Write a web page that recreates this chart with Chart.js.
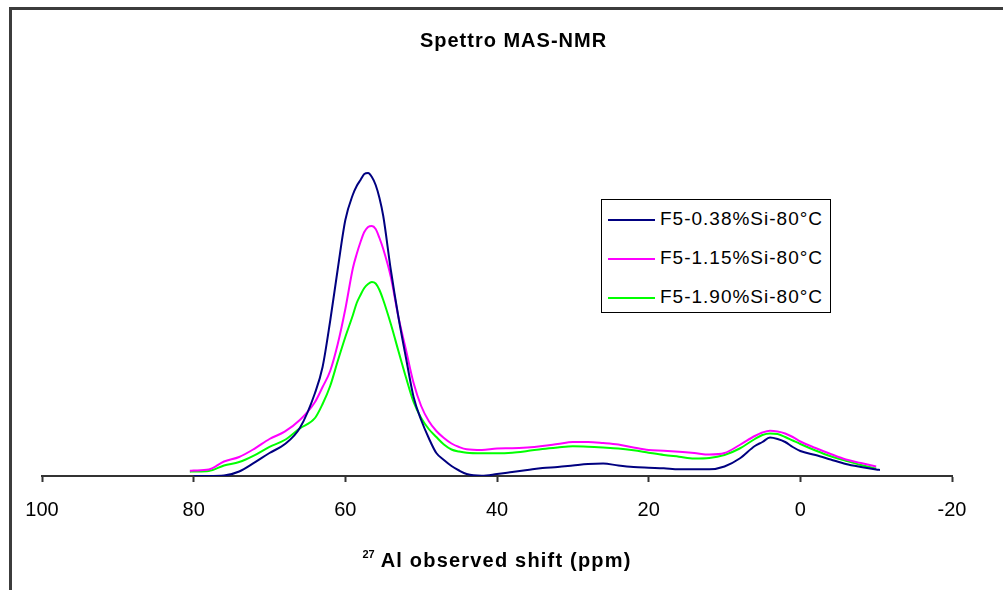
<!DOCTYPE html>
<html>
<head>
<meta charset="utf-8">
<title>Spettro MAS-NMR</title>
<script src="https://cdn.jsdelivr.net/npm/chart.js"></script>
<style>
    html, body {
        margin: 0;
        padding: 0;
        background: #ffffff;
        overflow: hidden;
    }

    #wrap {
        position: relative;
        width: 1003px;
        height: 590px;
        overflow: hidden;
        font-family: Arial, "Liberation Sans", sans-serif;
    }

    #frame {
        position: absolute;
        left: 9px;
        top: 7px;
        width: 2000px;
        height: 2000px;
        border: 3px solid #3c3c3c;
    }

    #main {
        position: absolute;
        left: 0;
        top: 0;
        width: 1003px;
        height: 590px;
    }

    #title {
        position: absolute;
        left: 0;
        width: 1003px;
        top: 29px;
        text-align: center;
        font-weight: bold;
        font-size: 20px;
        letter-spacing: 1px;
        padding-left: 24px;
        box-sizing: border-box;
    }

    #xtitle {
        position: absolute;
        left: 42px;
        width: 910px;
        top: 548px;
        text-align: center;
        font-weight: bold;
        font-size: 20px;
        letter-spacing: 1.2px;
    }

    #xtitle sup {
        font-size: 11px;
        vertical-align: 9px;
        letter-spacing: 0;
    }

    #legend {
        position: absolute;
        left: 601px;
        top: 199px;
        width: 228px;
        height: 112px;
        border: 1px solid #000;
        background: #fff;
    }

    .item {
        position: absolute;
        left: 6px;
        height: 24px;
        font-size: 19px;
        letter-spacing: 1px;
        line-height: 24px;
        white-space: nowrap;
    }

    .item span {
        display: inline-block;
        width: 47px;
        height: 2px;
        margin-right: 5px;
        vertical-align: middle;
    }
</style>
</head>
<body>
<div id="wrap">
    <div id="frame"></div>
    <div id="main"><canvas id="myChart"></canvas></div>
    <div id="title">Spettro MAS-NMR</div>
    <div id="legend"></div>
    <div id="xtitle"><sup>27</sup> Al observed shift (ppm)</div>
</div>

<script>
    // chemical shift (ppm), shared by the three spectra
    var shift = [80.5, 80, 78, 76, 74, 72, 70, 68, 66, 64, 63, 62, 61, 60, 59, 58.5, 58, 57.5, 57, 56.5,
        56, 55.5, 55, 54, 53, 52, 51, 50, 49, 48, 47, 46, 45, 44, 42, 40, 38, 36, 34, 32,
        30, 28, 26, 24, 22, 20, 18, 16, 14, 12, 10, 8, 6, 5, 4, 3, 2, 1, 0, -2,
        -4, -6, -8, -10, -10.5];

    // intensity (arbitrary units)
    var f5_038 = [null, 0, 0, 0.5, 4.5, 13.3, 23, 31.7, 48, 83, 109, 155, 207, 256, 281.5, 290, 296, 302, 303, 299,
        291, 278, 260, 206, 159, 118, 79, 56, 38, 23, 16, 10, 5.5, 2, 0.3, 2, 4, 6, 8, 9,
        10.5, 12, 12.5, 10.5, 9, 8.3, 7.7, 6.7, 6.7, 6.7, 9.5, 17.5, 30, 34, 38.5, 37, 34, 29, 25, 21,
        16.5, 12, 9, 6.5, 6];
    var f5_115 = [5.3, 5.5, 6.5, 14.5, 19, 27.2, 37, 44.4, 56, 74, 89, 105, 132, 167, 208, 222, 234, 244, 249, 250,
        247, 238, 227, 199, 159, 126, 93, 70, 55, 45, 38, 32.5, 29, 26.7, 26, 27.5, 27.7, 28.5, 30, 32,
        34, 34, 33, 31.5, 28.5, 26, 25.3, 24.3, 23, 21.5, 23, 31, 40, 43.5, 45.3, 44.5, 42.5, 39, 34.5, 28,
        22, 16.5, 13, 9.5, null];
    var f5_190 = [4.3, 4.5, 5, 10.5, 14, 20.7, 29.2, 36, 47.6, 58, 72, 90, 115, 139, 161, 173, 181, 188, 192, 194,
        192.5, 186, 176, 152, 125, 98.5, 74, 58, 47, 39, 31.5, 26.5, 24.5, 23.2, 22.7, 22.7, 23.3, 25, 27, 28.5,
        29.7, 29.3, 28.5, 27.5, 25.7, 23.3, 21, 19.3, 17.5, 18, 21, 27.5, 37, 41, 42.5, 42, 39, 35.5, 32, 25.5,
        19.7, 15.2, 11, 7.5, null];

    var seriesNames = ['F5-0.38%Si-80°C', 'F5-1.15%Si-80°C', 'F5-1.90%Si-80°C'];
    var seriesColors = ['#000080', '#ff00ff', '#00ff00'];
    var xTicks = [100, 80, 60, 40, 20, 0, -20];

    function toPoints(values) {
        var pts = [];
        shift.forEach(function (x, i) {
            if (values[i] !== null) {
                pts.push({ x: x, y: values[i] });
            }
        });
        return pts;
    }

    var datasets = [f5_038, f5_115, f5_190].map(function (vals, i) {
        return {
            label: seriesNames[i],
            data: toPoints(vals),
            borderColor: seriesColors[i],
            borderWidth: 2,
            pointRadius: 0,
            fill: false,
            cubicInterpolationMode: 'monotone'
        };
    });

    // legend (drawn as html, inside the plot like the original)
    var legend = document.getElementById('legend');
    seriesNames.forEach(function (name, i) {
        var div = document.createElement('div');
        div.className = 'item';
        div.style.top = (7 + i * 39) + 'px';
        div.innerHTML = '<span style="background:' + seriesColors[i] + '"></span>' + name;
        legend.appendChild(div);
    });

    var ctx = document.getElementById('myChart').getContext('2d');
    var chart = new Chart(ctx, {
        type: 'line',
        data: { datasets: datasets },
        options: {
            responsive: true,
            maintainAspectRatio: false,
            animation: false,
            layout: {
                padding: { left: 42, right: 51, top: 60, bottom: 0 }
            },
            plugins: {
                legend: { display: false },
                title: { display: false },
                tooltip: { enabled: false }
            },
            scales: {
                x: {
                    type: 'linear',
                    reverse: true,
                    min: -20,
                    max: 100,
                    afterBuildTicks: function (scale) {
                        scale.ticks = xTicks.map(function (v) { return { value: v }; });
                    },
                    afterFit: function (scale) {
                        scale.height = 114;
                    },
                    grid: {
                        drawOnChartArea: false,
                        drawTicks: true,
                        tickLength: 6,
                        tickWidth: 2,
                        color: '#333333'
                    },
                    border: {
                        display: true,
                        color: '#333333',
                        width: 2
                    },
                    ticks: {
                        padding: 16,
                        color: '#000000',
                        maxRotation: 0,
                        font: { family: 'Arial, "Liberation Sans", sans-serif', size: 20 }
                    }
                },
                y: {
                    display: false,
                    min: 0,
                    max: 416
                }
            }
        }
    });
</script>
</body>
</html>
